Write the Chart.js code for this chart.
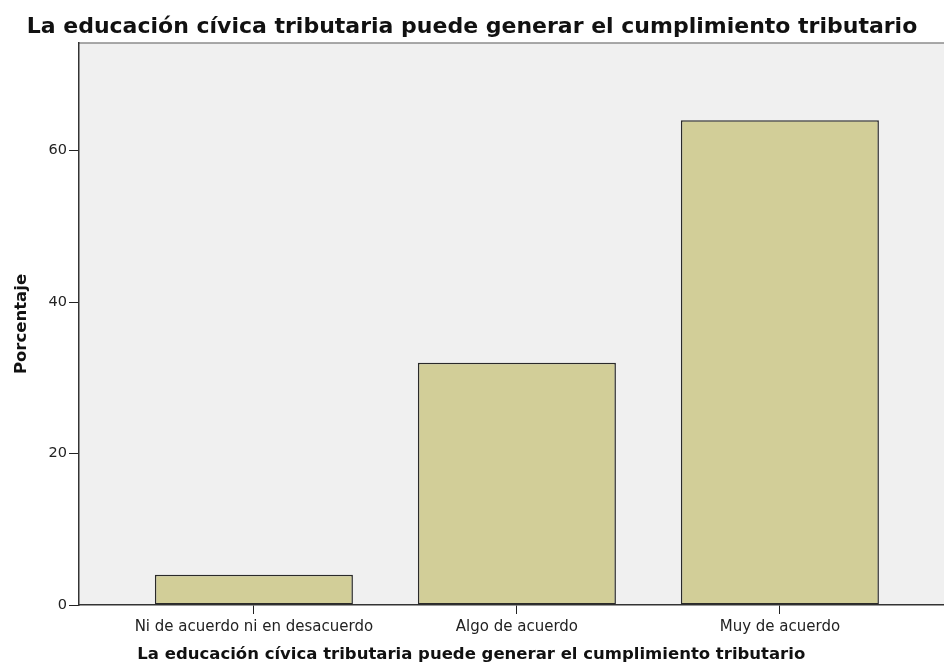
<!DOCTYPE html>
<html>
<head>
<meta charset="utf-8">
<script src="https://cdn.jsdelivr.net/npm/chart.js@4.4.0/dist/chart.umd.min.js"></script>
<style>
  body { margin: 0; background: #fff; overflow: hidden; }
  #wrap { width: 944px; height: 668px; position: relative; }
</style>
</head>
<body>
<div id="wrap"><canvas id="chart"></canvas></div>
<script>
const titleText = "La educación cívica tributaria puede generar el cumplimiento tributario";
const categories = ["Ni de acuerdo ni en desacuerdo", "Algo de acuerdo", "Muy de acuerdo"];
const porcentaje = [4, 32, 64];
const yTicks = [0, 20, 40, 60];

// plot background + grey top border, like the SPSS output
const plotBg = {
  id: "plotBg",
  beforeDraw(chart) {
    const { ctx, chartArea: a } = chart;
    ctx.save();
    ctx.fillStyle = "#f0f0f0";
    ctx.fillRect(a.left, a.top, a.right - a.left, a.bottom - a.top);
    ctx.strokeStyle = "#8c8c8c";
    ctx.lineWidth = 1.5;
    ctx.beginPath();
    ctx.moveTo(a.left, a.top);
    ctx.lineTo(a.right, a.top);
    ctx.stroke();
    ctx.restore();
  }
};

Chart.defaults.font.family = "'DejaVu Sans', sans-serif";
Chart.defaults.color = "#222";

new Chart(document.getElementById("chart"), {
  type: "bar",
  data: {
    datasets: [{
      label: "Porcentaje",
      data: porcentaje.map((v, i) => ({ x: i, y: v })),
      backgroundColor: "#d2ce98",
      borderColor: "#2a2a2a",
      borderWidth: 1.5,
      borderSkipped: false,
      categoryPercentage: 1,
      barPercentage: 0.753
    }]
  },
  options: {
    responsive: true,
    maintainAspectRatio: false,
    animation: false,
    layout: { padding: 0 },
    plugins: {
      legend: { display: false },
      tooltip: { enabled: false },
      title: {
        display: true,
        text: titleText,
        color: "#111",
        font: { size: 22, weight: "bold" },
        padding: { top: 14, bottom: 2.6 }
      }
    },
    scales: {
      x: {
        type: "linear",
        min: -0.665,
        max: 2.624,
        offset: false,
        afterFit: s => { s.height = 63; },
        afterBuildTicks: s => { s.ticks = categories.map((c, i) => ({ value: i })); },
        ticks: {
          callback: v => categories[v],
          font: { size: 15 },
          padding: 4,
          maxRotation: 0,
          autoSkip: false
        },
        grid: { offset: false, drawOnChartArea: false, drawTicks: true, tickLength: 9, color: "#222" },
        border: { display: true, color: "#333", width: 1.5 },
        title: {
          display: true,
          // trailing spaces pull the title back toward the page centre, as in the original
          text: titleText + "\u00a0".repeat(14),
          color: "#111",
          font: { size: 16.5, weight: "bold" },
          padding: { top: 0, bottom: 3 }
        }
      },
      y: {
        min: 0,
        max: 74.2,
        afterFit: s => { s.width = 79; },
        afterBuildTicks: s => { s.ticks = yTicks.map(v => ({ value: v })); },
        ticks: { font: { size: 14.5 }, padding: 2 },
        grid: { drawOnChartArea: false, drawTicks: true, tickLength: 10, color: "#222" },
        border: { display: true, color: "#333", width: 1.5 },
        title: {
          display: true,
          text: "Porcentaje",
          color: "#111",
          font: { size: 16.5, weight: "bold" },
          padding: { top: 12, bottom: 0 }
        }
      }
    }
  },
  plugins: [plotBg]
});
</script>
</body>
</html>
